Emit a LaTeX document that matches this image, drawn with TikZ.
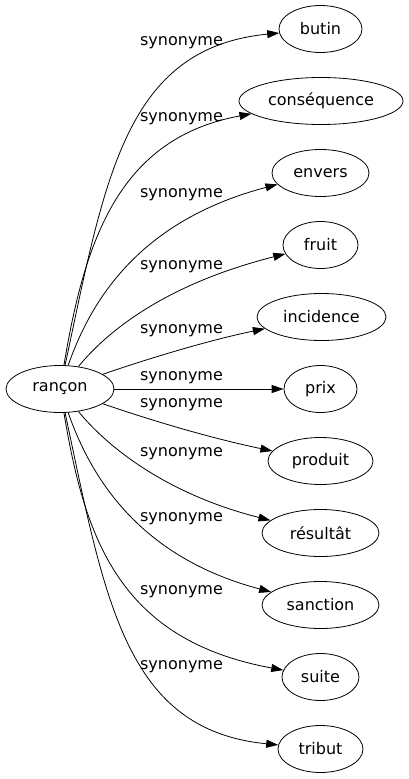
\documentclass[tikz,border=0pt]{standalone}
\usepackage{fontspec}
\setmainfont{DejaVu Sans}
\usetikzlibrary{shapes.geometric,arrows.meta}

\begin{document}
\begin{tikzpicture}[x=1pt,y=-1pt,line width=0.8pt,>={Triangle[length=12pt,width=8pt]}]
\useasboundingbox (0,0) rectangle (408,779);
\begin{scope}[every node/.style={ellipse,draw,inner sep=0pt,minimum height=47pt,font=\fontsize{16}{19}\selectfont}]
	\node[minimum width=108pt] (rancon) at (60,389) {rançon};
	\node[minimum width=83pt] (butin) at (320.5,29) {butin};
	\node[minimum width=164pt] (consequence) at (321,101) {conséquence};
	\node[minimum width=97pt] (envers) at (320.5,173) {envers};
	\node[minimum width=75pt] (fruit) at (320.5,245) {fruit};
	\node[minimum width=129pt] (incidence) at (321.5,317) {incidence};
	\node[minimum width=73pt] (prix) at (320.5,389) {prix};
	\node[minimum width=105pt] (produit) at (320.5,461) {produit};
	\node[minimum width=117pt] (resultat) at (320.5,533) {résultât};
	\node[minimum width=117pt] (sanction) at (320.5,605) {sanction};
	\node[minimum width=77pt] (suite) at (320.5,677) {suite};
	\node[minimum width=85pt] (tribut) at (320.5,749) {tribut};
\end{scope}

\begin{scope}[every node/.style={inner sep=0pt,font=\fontsize{16}{19}\selectfont}]
	\node (s1) at (181.5,43) {synonyme};
	\node (s2) at (181.5,119) {synonyme};
	\node (s3) at (181.5,195) {synonyme};
	\node (s4) at (181.5,267) {synonyme};
	\node (s5) at (181.5,331) {synonyme};
	\node (s6) at (181.5,378) {synonyme};
	\node (s7) at (181.5,405) {synonyme};
	\node (s8) at (181.5,454) {synonyme};
	\node (s9) at (181.5,519) {synonyme};
	\node (s10) at (181.5,592) {synonyme};
	\node (s11) at (181.5,667) {synonyme};
\end{scope}

\draw [->] (rancon) .. controls (105,178) and (125,48) .. (butin);
\draw [->] (rancon) .. controls (85,238) and (120,138) .. (consequence);
\draw [->] (rancon) .. controls (95,288) and (150,218) .. (envers);
\draw [->] (rancon) .. controls (110,328) and (170,283) .. (fruit);
\draw [->] (rancon) .. controls (150,358) and (210,340) .. (incidence);
\draw [->] (rancon) -- (prix);
\draw [->] (rancon) .. controls (150,420) and (210,438) .. (produit);
\draw [->] (rancon) .. controls (110,450) and (170,495) .. (resultat);
\draw [->] (rancon) .. controls (95,490) and (150,560) .. (sanction);
\draw [->] (rancon) .. controls (85,540) and (120,640) .. (suite);
\draw [->] (rancon) .. controls (105,600) and (125,730) .. (tribut);
\end{tikzpicture}
\end{document}
